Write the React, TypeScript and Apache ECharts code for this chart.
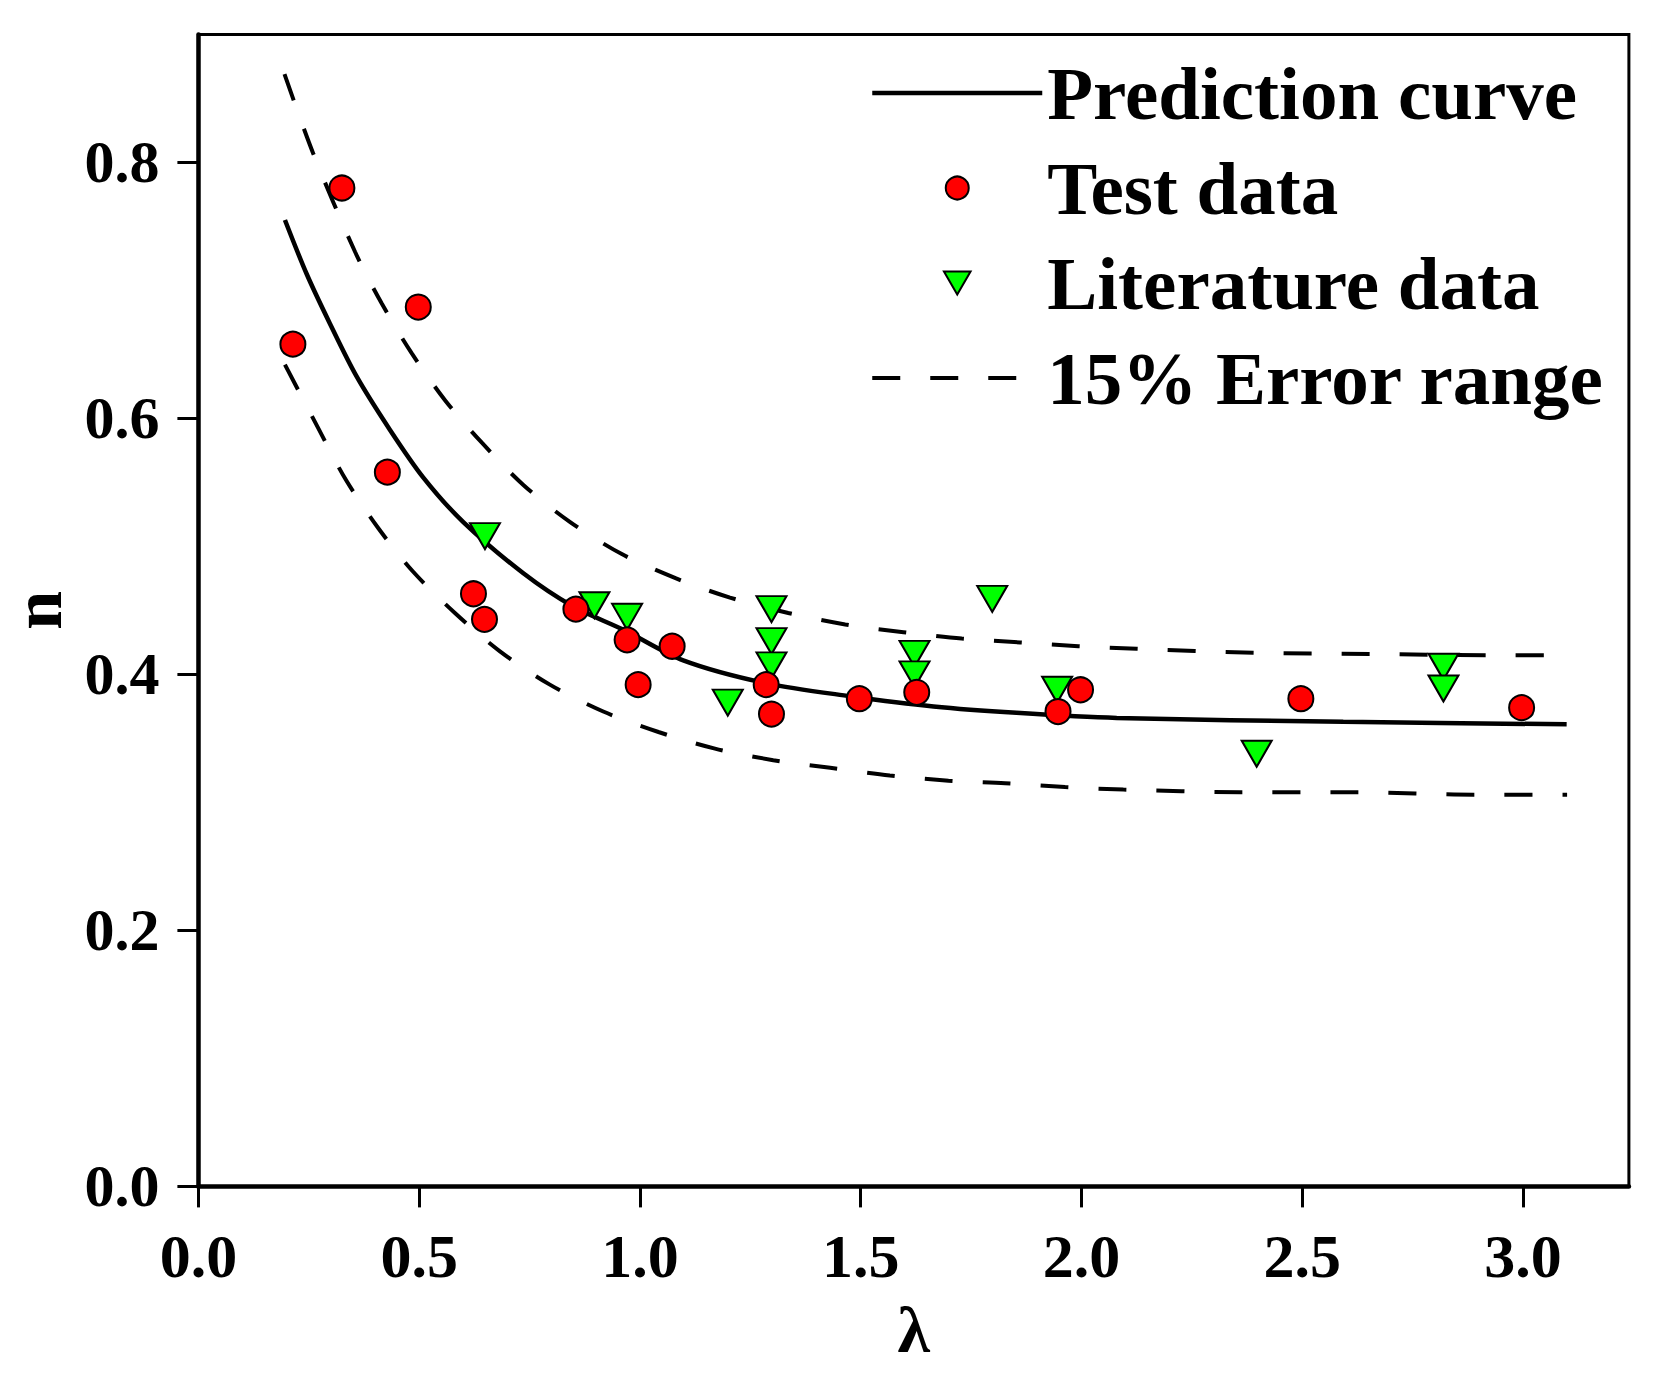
import React, { useEffect, useRef } from "react";
import * as echarts from "echarts";

// Test data (red circles)
const testLambda = [0.214, 0.325, 0.428, 0.498, 0.623, 0.648, 0.855, 0.971, 0.996, 1.073, 1.286, 1.298, 1.497, 1.627, 1.947, 1.998, 2.497, 2.997];
const testN = [0.658, 0.780, 0.558, 0.687, 0.463, 0.443, 0.451, 0.427, 0.392, 0.422, 0.392, 0.369, 0.381, 0.386, 0.371, 0.388, 0.381, 0.374];

// Literature data (green down-triangles)
const litLambda = [0.649, 0.897, 0.971, 1.199, 1.298, 1.298, 1.298, 1.622, 1.622, 1.798, 1.945, 2.397, 2.820, 2.820];
const litN = [0.508, 0.454, 0.445, 0.378, 0.451, 0.426, 0.407, 0.416, 0.400, 0.459, 0.388, 0.338, 0.406, 0.389];

// Prediction curve
const predLambda = [0.196, 0.245, 0.298, 0.358, 0.434, 0.509, 0.600, 0.736, 0.849, 0.962, 1.098, 1.287, 1.476, 1.665, 1.853, 2.080, 2.593, 3.099];
const predN = [0.755, 0.713, 0.674, 0.633, 0.591, 0.554, 0.519, 0.479, 0.453, 0.435, 0.411, 0.393, 0.383, 0.375, 0.370, 0.366, 0.363, 0.361];

// Upper 15% error bound
const upperLambda = [0.195, 0.260, 0.355, 0.415, 0.483, 0.559, 0.642, 0.736, 0.842, 0.959, 1.082, 1.204, 1.336, 1.465, 1.597, 1.729, 1.861, 1.993, 2.125, 2.389, 2.654, 2.918, 3.100];
const upperN = [0.869, 0.807, 0.730, 0.690, 0.651, 0.614, 0.581, 0.548, 0.519, 0.494, 0.475, 0.460, 0.448, 0.439, 0.433, 0.428, 0.425, 0.422, 0.420, 0.417, 0.416, 0.415, 0.415];

// Lower 15% error bound
const lowerLambda = [0.196, 0.272, 0.334, 0.408, 0.487, 0.581, 0.683, 0.796, 0.917, 1.042, 1.170, 1.302, 1.431, 1.566, 1.699, 1.827, 1.963, 2.095, 2.359, 2.624, 2.888, 3.100];
const lowerN = [0.642, 0.592, 0.552, 0.514, 0.480, 0.448, 0.418, 0.392, 0.371, 0.355, 0.342, 0.333, 0.327, 0.321, 0.317, 0.315, 0.312, 0.310, 0.308, 0.308, 0.306, 0.306];

const xTicks = [0, 0.5, 1.0, 1.5, 2.0, 2.5, 3.0];
const yTicks = [0, 0.2, 0.4, 0.6, 0.8];

const FONT = "'Liberation Serif', 'Times New Roman', serif";

const zip = (xs: number[], ys: number[]) => xs.map((x, i) => [x, ys[i]]);

export default function App() {
  const ref = useRef<HTMLDivElement>(null);

  useEffect(() => {
    if (!ref.current) return;
    const chart = echarts.init(ref.current, null, { renderer: "svg" });
    const dashed = { color: "#000", width: 4, type: [28, 30] as number[] };
    const hiddenSymbol = { opacity: 0, color: "transparent", borderWidth: 0 };
    chart.setOption({
      animation: false,
      backgroundColor: "#fff",
      grid: {
        left: 198.4,
        right: 35.1,
        top: 34.4,
        bottom: 198.6,
        containLabel: false,
        outerBoundsMode: "none",
        show: true,
        borderColor: "#000",
        borderWidth: 3,
        backgroundColor: "transparent",
      },
      legend: {
        data: [
          {
            name: "Prediction curve",
            itemStyle: hiddenSymbol,
            lineStyle: { color: "#000", width: 4.5, type: "solid" },
          },
          { name: "Test data" },
          {
            name: "Literature data",
            icon: "path://M0,0L22,0L11,19Z",
          },
          {
            name: "15% Error range",
            itemStyle: hiddenSymbol,
            lineStyle: { color: "#000", width: 4, type: [28, 30] },
          },
        ],
        orient: "vertical",
        left: 870,
        top: 53,
        padding: 0,
        itemWidth: 170,
        itemHeight: 23,
        itemGap: 15,
        textStyle: {
          fontFamily: FONT,
          fontWeight: "bold",
          fontSize: 75,
          lineHeight: 80,
          color: "#000",
        },
      },
      xAxis: {
        type: "value",
        min: 0,
        max: 3.24,
        name: "λ",
        nameLocation: "middle",
        nameGap: 110,
        nameMoveOverlap: false,
        nameTextStyle: { fontFamily: FONT, fontWeight: "bold", fontSize: 66, color: "#000" },
        axisLine: { show: true, lineStyle: { color: "#000", width: 4.5 } },
        axisTick: { show: true, inside: false, length: 21, lineStyle: { color: "#000", width: 3 }, customValues: xTicks },
        axisLabel: {
          customValues: xTicks,
          margin: 39,
          fontFamily: FONT,
          fontWeight: "bold",
          fontSize: 62,
          color: "#000",
          formatter: (v: number) => v.toFixed(1),
        },
        splitLine: { show: false },
      },
      yAxis: {
        type: "value",
        min: 0,
        max: 0.9,
        name: "n",
        nameLocation: "middle",
        nameGap: 126,
        nameMoveOverlap: false,
        nameRotate: 90,
        nameTextStyle: {
          fontFamily: FONT,
          fontWeight: "bold",
          fontSize: 70,
          padding: 0,
          color: "#000",
        },
        axisLine: { show: true, lineStyle: { color: "#000", width: 4.5 } },
        axisTick: { show: true, inside: false, length: 21, lineStyle: { color: "#000", width: 3 }, customValues: yTicks },
        axisLabel: {
          customValues: yTicks,
          margin: 39,
          fontFamily: FONT,
          fontWeight: "bold",
          fontSize: 60,
          color: "#000",
          formatter: (v: number) => v.toFixed(1),
        },
        splitLine: { show: false },
      },
      series: [
        {
          name: "Prediction curve",
          type: "line",
          data: zip(predLambda, predN),
          smooth: 0.3,
          symbol: "none",
          lineStyle: { color: "#000", width: 4.5 },
          itemStyle: { color: "#000" },
          z: 2,
        },
        {
          name: "15% Error range",
          type: "line",
          data: zip(upperLambda, upperN),
          smooth: 0.3,
          symbol: "none",
          lineStyle: dashed,
          itemStyle: { color: "#000" },
          z: 2,
        },
        {
          name: "15% Error range",
          type: "line",
          data: zip(lowerLambda, lowerN),
          smooth: 0.3,
          symbol: "none",
          lineStyle: dashed,
          itemStyle: { color: "#000" },
          z: 2,
        },
        {
          name: "Literature data",
          type: "scatter",
          data: zip(litLambda, litN),
          symbol: "triangle",
          symbolRotate: 180,
          symbolSize: [30, 26],
          itemStyle: { color: "#00ff00", borderColor: "#000", borderWidth: 2, opacity: 1 },
          z: 3,
        },
        {
          name: "Test data",
          type: "scatter",
          data: zip(testLambda, testN),
          symbol: "circle",
          symbolSize: 25,
          itemStyle: { color: "#ff0000", borderColor: "#000", borderWidth: 2, opacity: 1 },
          z: 4,
        },
      ],
    });
    return () => chart.dispose();
  }, []);

  return (
    <div
      ref={ref}
      style={{ position: "absolute", left: 0, top: 0, width: 1664, height: 1385 }}
    />
  );
}
